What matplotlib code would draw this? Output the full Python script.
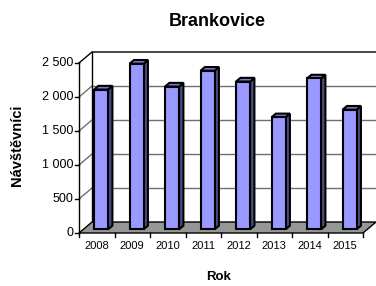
import matplotlib
matplotlib.use("Agg")
import matplotlib.pyplot as plt
from matplotlib.patches import Polygon

years = ["2008", "2009", "2010", "2011", "2012", "2013", "2014", "2015"]
visitors = [2056, 2436, 2100, 2333, 2174, 1648, 2219, 1760]
yticks = [0, 500, 1000, 1500, 2000, 2500]
ytick_labels = ["0", "500", "1 000", "1 500", "2 000", "2 500"]

FRONT = "#9999ff"
SIDE = "#4d4d88"
TOP = "#7a7acc"
FLOOR = "#969696"


def main():
    plt.rcParams["font.family"] = ["Liberation Sans", "DejaVu Sans"]
    fig = plt.figure(figsize=(3.76, 2.86), dpi=100)
    W, H = 376, 286
    # front plane of the 3d box, in pixels
    x0, x1, y0, y1 = 79, 363, 233, 63
    ax = fig.add_axes([x0 / W, (H - y0) / H, (x1 - x0) / W, (y0 - y1) / H])
    n = len(years)
    ymax = 2500
    ax.set_xlim(0, n)
    ax.set_ylim(0, ymax)
    ax.axis("off")

    px = n / (x1 - x0)
    py = ymax / (y0 - y1)
    DX, DY = 13 * px, 11 * py

    def poly(pts, fc, ec="black", lw=1.0, z=1):
        ax.add_patch(Polygon(pts, closed=True, facecolor=fc, edgecolor=ec,
                             linewidth=lw, clip_on=False, zorder=z))

    # back wall and side wall
    poly([(DX, DY), (n + DX, DY), (n + DX, ymax + DY), (DX, ymax + DY)], "white", "none")
    poly([(0, 0), (DX, DY), (DX, ymax + DY), (0, ymax)], "white", "none")
    for v in yticks[1:-1]:
        ax.plot([DX, n + DX], [v + DY, v + DY], color="#6f6f6f", lw=1, clip_on=False, zorder=1.5)
        ax.plot([0, DX], [v, v + DY], color="#6f6f6f", lw=1, clip_on=False, zorder=1.5)
    ax.plot([0, DX, n + DX], [ymax, ymax + DY, ymax + DY], color="black", lw=1, clip_on=False, zorder=2)
    ax.plot([DX, DX], [DY, ymax + DY], color="black", lw=1, clip_on=False, zorder=2)

    # floor
    poly([(0, 0), (n, 0), (n + DX, DY), (DX, DY)], FLOOR, "black", 1.0, 2)
    ax.plot([0, 0], [0, ymax], color="black", lw=1, clip_on=False, zorder=2)

    # y ticks
    tk = 4 * px
    for v, lab in zip(yticks, ytick_labels):
        ax.plot([-tk, 0], [v, v], color="black", lw=1, clip_on=False, zorder=2)
        ax.text(-tk - 1.5 * px, v, lab, ha="right", va="center", fontsize=9)

    # x ticks
    for i in range(n + 1):
        ax.plot([i, i], [0, -4 * py], color="black", lw=1, clip_on=False, zorder=2)
    for i, lab in enumerate(years):
        ax.text(i + 0.5, -13 * py, lab, ha="center", va="center", fontsize=8)

    # bars
    w = 14 * px
    bdx, bdy = DX / 3, DY / 3
    for i, v in enumerate(visitors):
        left = i + 0.5 - w / 2 + bdx
        right = left + w
        b = bdy
        ax.bar(left, v, width=w, bottom=b, align="edge", color=FRONT,
               edgecolor="black", linewidth=1.5, zorder=4, clip_on=False)
        poly([(right, b), (right + bdx, b + bdy), (right + bdx, b + v + bdy), (right, b + v)],
             SIDE, "black", 1.5, 3)
        poly([(left, b + v), (left + bdx, b + v + bdy), (right + bdx, b + v + bdy), (right, b + v)],
             TOP, "black", 1.5, 3)

    fig.text(217 / W, 1 - 22 / H, "Brankovice", ha="center", va="center",
             fontsize=13, fontweight="bold")
    fig.text(17 / W, 1 - 145 / H, "Návštěvníci", ha="center", va="center",
             rotation=90, fontsize=10.5, fontweight="bold")
    fig.text(219 / W, 1 - 277 / H, "Rok", ha="center", va="center",
             fontsize=9.5, fontweight="bold")

    fig.savefig("out.png", dpi=100)


if __name__ == "__main__":
    main()
